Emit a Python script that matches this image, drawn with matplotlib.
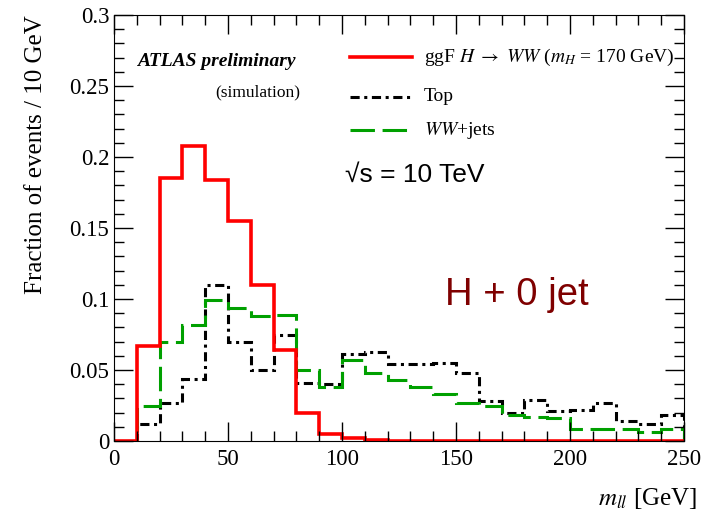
import numpy as np
import matplotlib
matplotlib.use("Agg")
import matplotlib.pyplot as plt
from matplotlib.lines import Line2D
from matplotlib.ticker import MultipleLocator

plt.rcParams["font.family"] = ["Liberation Serif", "DejaVu Serif"]
plt.rcParams["mathtext.fontset"] = "stix"

# bin edges (10 GeV bins)
edges = np.arange(0, 260, 10)

# ggF H -> WW (mH = 170 GeV)
higgs = [0.0, 0.067, 0.185, 0.208, 0.184, 0.155, 0.110, 0.064, 0.020, 0.005,
         0.002, 0.001, 0.0, 0.0, 0.0, 0.0, 0.0, 0.0, 0.0, 0.0,
         0.0, 0.0, 0.0, 0.0, 0.0]
# Top
top = [0.0, 0.012, 0.027, 0.044, 0.110, 0.070, 0.050, 0.075, 0.041, 0.040,
       0.061, 0.063, 0.054, 0.054, 0.055, 0.048, 0.028, 0.020, 0.029, 0.021,
       0.022, 0.027, 0.014, 0.012, 0.018]
# WW + jets
wwjets = [0.0, 0.025, 0.070, 0.082, 0.099, 0.094, 0.088, 0.089, 0.050, 0.038,
          0.057, 0.048, 0.043, 0.038, 0.033, 0.027, 0.025, 0.018, 0.017, 0.016,
          0.0085, 0.0085, 0.0085, 0.006, 0.0085]

DASHDOT = (0, (3, 1.5, 1, 1.5))
DASHED = (0, (8, 2.5))

fig = plt.figure(figsize=(7.15, 5.13), dpi=100)
ax = fig.add_axes([114 / 715, 1 - 441 / 513, 570 / 715, 426 / 513])

ax.stairs(top, edges, color="black", lw=2.2, linestyle=DASHDOT)
ax.stairs(wwjets, edges, color="#00a000", lw=2.2, linestyle=DASHED)
ax.stairs(higgs, edges, color="red", lw=2.6)

ax.set_xlim(0, 250)
ax.set_ylim(0, 0.3)
ax.xaxis.set_major_locator(MultipleLocator(50))
ax.xaxis.set_minor_locator(MultipleLocator(10))
ax.yaxis.set_major_locator(MultipleLocator(0.05))
ax.yaxis.set_minor_locator(MultipleLocator(0.01))
ax.set_yticks([0, 0.05, 0.1, 0.15, 0.2, 0.25, 0.3])
ax.set_yticklabels(["0", "0.05", "0.1", "0.15", "0.2", "0.25", "0.3"])
ax.tick_params(which="both", direction="in", top=True, right=True, labelsize=16.5)
ax.tick_params(which="major", length=14, width=1)
ax.tick_params(which="minor", length=7, width=1)
ax.tick_params(axis="x", pad=6)

ax.set_ylabel("Fraction of events / 10 GeV", fontsize=18, loc="top")
ax.yaxis.set_label_coords(-0.118, 1.0)
ax.set_xlabel(r"$m_{ll}$ [GeV]", fontsize=18, loc="right")
ax.xaxis.set_label_coords(1.023, -0.106)

ax.text(0.04, 0.89, "ATLAS preliminary", transform=ax.transAxes, fontsize=14,
        fontweight="bold", fontstyle="italic", va="center")
ax.text(0.326, 0.819, "(simulation)", transform=ax.transAxes, fontsize=12.5,
        ha="right", va="center")

# legend drawn by hand
leg_y = [0.901, 0.808, 0.73]
leg_lbl = [r"ggF $H\ \rightarrow\ WW$ ($m_{H}$ = 170 GeV)", "Top", r"$WW$+jets"]
leg_sty = [dict(color="red", lw=2.6),
           dict(color="black", lw=2.2, linestyle=DASHDOT),
           dict(color="#00a000", lw=2.2, linestyle=DASHED)]
for yy, lbl, sty in zip(leg_y, leg_lbl, leg_sty):
    ax.add_line(Line2D([0.414, 0.523], [yy, yy], transform=ax.transAxes, **sty))
    ax.text(0.544, yy, lbl, transform=ax.transAxes, fontsize=14, va="center")

ax.text(0.405, 0.624, "\u221as = 10 TeV", transform=ax.transAxes, fontsize=19,
        va="center", family=["Liberation Sans", "DejaVu Sans"])
ax.text(0.581, 0.343, "H + 0 jet", transform=ax.transAxes, fontsize=27.5,
        va="center", color="#7f0000", family=["Liberation Sans", "DejaVu Sans"])

fig.savefig("out.png", dpi=100)
